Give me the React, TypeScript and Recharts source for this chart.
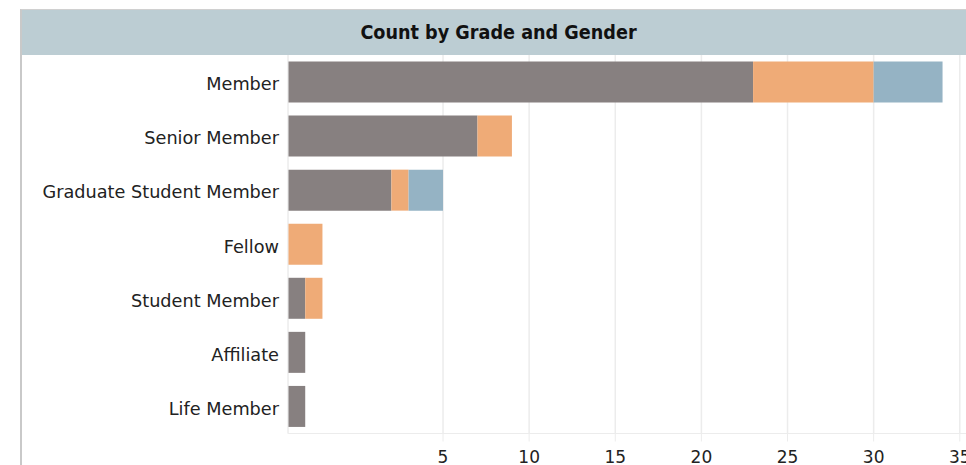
import { BarChart, Bar, XAxis, YAxis, CartesianGrid } from "recharts";

const grades = [
  "Member",
  "Senior Member",
  "Graduate Student Member",
  "Fellow",
  "Student Member",
  "Affiliate",
  "Life Member",
];
const maleCounts = [27, 11, 6, 0, 1, 1, 1];
const femaleCounts = [7, 2, 1, 2, 1, 0, 0];
const unspecifiedCounts = [4, 0, 2, 0, 0, 0, 0];

// the source axis puts its labels on these positions
const tickValues = [9, 14, 19, 24, 29, 34, 39];
const tickLabels = ["5", "10", "15", "20", "25", "30", "35"];

const data = grades.map((grade, i) => ({
  grade,
  male: maleCounts[i],
  female: femaleCounts[i],
  unspecified: unspecifiedCounts[i],
}));

const font = "'DejaVu Sans', Verdana, sans-serif";

export default function App() {
  return (
    <div
      style={{
        position: "absolute",
        left: 0,
        top: 0,
        width: 966,
        height: 465,
        overflow: "hidden",
        background: "#fff",
        fontFamily: font,
      }}
    >
      <div
        style={{
          position: "absolute",
          left: 20,
          top: 9,
          width: 946,
          height: 456,
          borderLeft: "2px solid #c9c9c9",
          boxSizing: "border-box",
        }}
      />
      <div
        style={{
          position: "absolute",
          left: 20,
          top: 9,
          width: 946,
          height: 46,
          paddingLeft: 9,
          background: "#bccdd3",
          borderTop: "1px solid #d0d0d0",
          borderLeft: "2px solid #c9c9c9",
          boxSizing: "border-box",
          display: "flex",
          alignItems: "center",
          justifyContent: "center",
          fontFamily: "'DejaVu Sans Condensed', 'DejaVu Sans', sans-serif",
          fontWeight: "bold",
          fontSize: 19.6,
          color: "#111",
        }}
      >
        Count by Grade and Gender
      </div>
      <div style={{ position: "absolute", left: 0, top: 0 }}>
        <BarChart
          width={977}
          height={480}
          data={data}
          layout="vertical"
          margin={{ top: 55, right: 0, bottom: 0, left: 0 }}
          barCategoryGap={6.5}
        >
          <CartesianGrid horizontal={false} stroke="#ececec" strokeWidth={1.5} />
          <XAxis
            type="number"
            domain={[0, 40]}
            ticks={tickValues}
            tickFormatter={(v) => tickLabels[tickValues.indexOf(v)]}
            height={46.5}
            tickSize={8}
            tickMargin={9}
            stroke="#ececec"
            tick={{ fill: "#222", fontSize: 17, fontFamily: font }}
          />
          <YAxis
            type="category"
            dataKey="grade"
            width={288}
            tickSize={0}
            tickMargin={9}
            stroke="#f0f0f0"
            tick={{ fill: "#222", fontSize: 17.7, fontFamily: font, dy: 2 }}
          />
          <Bar dataKey="male" stackId="g" fill="#878080" isAnimationActive={false} />
          <Bar dataKey="female" stackId="g" fill="#efab77" isAnimationActive={false} />
          <Bar dataKey="unspecified" stackId="g" fill="#95b3c4" isAnimationActive={false} />
        </BarChart>
      </div>
    </div>
  );
}
